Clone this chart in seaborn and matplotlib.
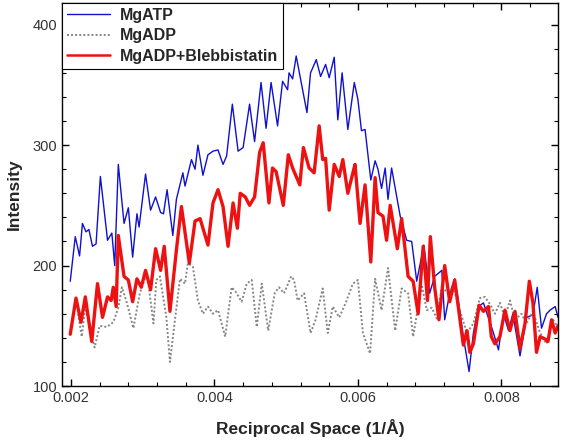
import matplotlib
matplotlib.use("Agg")
from matplotlib import pyplot as plt
import matplotlib.ticker as ticker
import seaborn as sns

# MgATP (blue)
atp_x = [0.00199, 0.00206, 0.00212, 0.00216, 0.00221, 0.00225, 0.00230, 0.00235, 0.00241, 0.00251,
         0.00257, 0.00261, 0.00266, 0.00274, 0.00280, 0.00286, 0.00292, 0.00295, 0.00304, 0.00311,
         0.00318, 0.00325, 0.00329, 0.00334, 0.00342, 0.00347, 0.00356, 0.00359, 0.00368, 0.00373,
         0.00377, 0.00384, 0.00391, 0.00398, 0.00405, 0.00412, 0.00417, 0.00425, 0.00433, 0.00440,
         0.00449, 0.00456, 0.00465, 0.00472, 0.00479, 0.00488, 0.00495, 0.00502, 0.00504, 0.00509,
         0.00514, 0.00521, 0.00529, 0.00534, 0.00542, 0.00548, 0.00555, 0.00560, 0.00567, 0.00572,
         0.00578, 0.00586, 0.00595, 0.00600, 0.00605, 0.00610, 0.00618, 0.00624, 0.00628, 0.00633,
         0.00638, 0.00642, 0.00647, 0.00659, 0.00668, 0.00675, 0.00682, 0.00692, 0.00700, 0.00707,
         0.00717, 0.00721, 0.00728, 0.00735, 0.00740, 0.00747, 0.00755, 0.00761, 0.00768, 0.00775,
         0.00789, 0.00796, 0.00803, 0.00810, 0.00816, 0.00826, 0.00835, 0.00844, 0.00850, 0.00856,
         0.00863, 0.00868, 0.00875, 0.00879]
atp_y = [187, 224, 208, 235, 228, 230, 216, 218, 274, 221,
         227, 200, 284, 235, 248, 207, 243, 232, 276, 246,
         257, 244, 243, 263, 225, 255, 277, 266, 288, 280,
         300, 275, 292, 295, 296, 284, 291, 334, 295, 298,
         334, 303, 352, 314, 352, 316, 353, 346, 360, 355,
         374, 352, 327, 360, 371, 357, 367, 356, 373, 321,
         360, 313, 352, 338, 312, 313, 271, 287, 280, 264,
         281, 255, 281, 241, 221, 220, 187, 217, 177, 191,
         196, 155, 177, 189, 171, 141, 112, 144, 166, 169,
         144, 130, 160, 146, 160, 125, 157, 159, 182, 148,
         160, 163, 166, 157]

# MgADP (grey dotted)
adp_x = [0.00210, 0.00215, 0.00220, 0.00229, 0.00233, 0.00240, 0.00250, 0.00259, 0.00266, 0.00271,
         0.00278, 0.00287, 0.00296, 0.00306, 0.00315, 0.00319, 0.00324, 0.00333, 0.00338, 0.00345,
         0.00352, 0.00359, 0.00363, 0.00370, 0.00377, 0.00384, 0.00391, 0.00398, 0.00405, 0.00415,
         0.00424, 0.00430, 0.00438, 0.00445, 0.00452, 0.00459, 0.00466, 0.00475, 0.00484, 0.00490,
         0.00497, 0.00507, 0.00511, 0.00516, 0.00525, 0.00534, 0.00541, 0.00551, 0.00558, 0.00565,
         0.00574, 0.00583, 0.00593, 0.00600, 0.00607, 0.00617, 0.00624, 0.00633, 0.00642, 0.00652,
         0.00661, 0.00670, 0.00677, 0.00684, 0.00689, 0.00696, 0.00703, 0.00710, 0.00717, 0.00726,
         0.00733, 0.00742, 0.00752, 0.00761, 0.00770, 0.00777, 0.00784, 0.00791, 0.00798, 0.00805,
         0.00812, 0.00819, 0.00828, 0.00835, 0.00844, 0.00854, 0.00863, 0.00872, 0.00879]
adp_y = [160, 141, 166, 141, 132, 150, 149, 153, 165, 182,
         169, 148, 177, 194, 152, 188, 191, 157, 120, 155,
         189, 185, 202, 199, 171, 160, 166, 160, 163, 141,
         182, 178, 170, 185, 188, 149, 185, 146, 177, 182,
         177, 191, 188, 171, 177, 144, 155, 181, 144, 166,
         157, 169, 185, 188, 144, 127, 189, 163, 198, 146,
         181, 177, 141, 166, 184, 163, 165, 156, 182, 177,
         182, 163, 144, 152, 173, 174, 168, 160, 169, 157,
         171, 155, 160, 152, 162, 144, 135, 155, 149]

# MgADP+Blebbistatin (red)
bleb_x = [0.00199, 0.00207, 0.00214, 0.00220, 0.00229, 0.00237, 0.00244, 0.00251, 0.00256, 0.00259,
          0.00263, 0.00266, 0.00274, 0.00280, 0.00286, 0.00292, 0.00298, 0.00304, 0.00311, 0.00318,
          0.00325, 0.00330, 0.00338, 0.00347, 0.00354, 0.00365, 0.00373, 0.00380, 0.00391, 0.00398,
          0.00405, 0.00412, 0.00419, 0.00426, 0.00432, 0.00436, 0.00443, 0.00449, 0.00456, 0.00463,
          0.00468, 0.00476, 0.00481, 0.00486, 0.00496, 0.00503, 0.00509, 0.00519, 0.00524, 0.00532,
          0.00539, 0.00546, 0.00551, 0.00555, 0.00560, 0.00567, 0.00574, 0.00579, 0.00586, 0.00593,
          0.00596, 0.00603, 0.00610, 0.00618, 0.00624, 0.00628, 0.00635, 0.00640, 0.00645, 0.00655,
          0.00661, 0.00670, 0.00677, 0.00684, 0.00691, 0.00697, 0.00701, 0.00707, 0.00713, 0.00721,
          0.00728, 0.00735, 0.00747, 0.00752, 0.00756, 0.00761, 0.00769, 0.00775, 0.00782, 0.00786,
          0.00791, 0.00798, 0.00805, 0.00812, 0.00819, 0.00826, 0.00833, 0.00839, 0.00844, 0.00849,
          0.00854, 0.00861, 0.00865, 0.00870, 0.00875, 0.00879]
bleb_y = [143, 173, 153, 174, 137, 185, 157, 174, 171, 182,
          166, 225, 191, 188, 170, 189, 182, 196, 180, 214,
          196, 216, 162, 213, 249, 202, 237, 239, 217, 252,
          263, 249, 216, 252, 231, 260, 257, 250, 257, 294,
          302, 252, 281, 278, 250, 292, 281, 267, 298, 281,
          277, 316, 288, 289, 246, 284, 274, 288, 260, 277,
          284, 235, 267, 203, 273, 244, 241, 221, 250, 214,
          239, 191, 187, 160, 216, 171, 224, 182, 155, 200,
          170, 188, 134, 146, 128, 135, 167, 162, 166, 141,
          135, 141, 163, 146, 162, 131, 152, 187, 169, 128,
          141, 139, 137, 155, 144, 150]


def plot():
    sns.set_style("ticks")
    plt.rcParams['font.family'] = ['Liberation Sans', 'DejaVu Sans']

    fig = plt.figure(figsize=(5.61, 4.44), dpi=100)
    ax = fig.add_axes([0.1105, 0.1306, 0.8842, 0.8626])

    sns.lineplot(x=atp_x, y=atp_y, ax=ax, color='#1010d0', lw=1.0,
                 solid_joinstyle='round', estimator=None, sort=False, label='MgATP')
    sns.lineplot(x=adp_x, y=adp_y, ax=ax, color='#858585', lw=1.4,
                 linestyle=(0, (1, 1.1)), estimator=None, sort=False, label='MgADP')
    sns.lineplot(x=bleb_x, y=bleb_y, ax=ax, color='#ee1111', lw=2.4,
                 solid_joinstyle='round', estimator=None, sort=False,
                 label='MgADP+Blebbistatin')

    ax.set_xlim(0.001875, 0.00879)
    ax.set_ylim(100, 418)
    ax.xaxis.set_major_locator(ticker.MultipleLocator(0.002))
    ax.xaxis.set_minor_locator(ticker.MultipleLocator(0.0004))
    ax.yaxis.set_major_locator(ticker.MultipleLocator(100))
    ax.yaxis.set_minor_locator(ticker.MultipleLocator(20))
    ax.xaxis.set_major_formatter(ticker.FormatStrFormatter('%.3f'))

    ax.tick_params(which='both', direction='in', top=True, right=True,
                   colors='black', labelcolor='#333333', labelsize=10.5)
    ax.tick_params(which='major', length=5, width=1.0)
    ax.tick_params(which='minor', length=3, width=0.8)
    for s in ax.spines.values():
        s.set_linewidth(1.0)
        s.set_color('black')

    ax.set_xlabel('Reciprocal Space (1/Å)', fontsize=12.5, fontweight='bold', labelpad=10)
    ax.set_ylabel('Intensity', fontsize=12.5, fontweight='bold', labelpad=8)

    leg = ax.legend(loc='upper left', borderaxespad=0, fancybox=False,
                    edgecolor='black', framealpha=1, handlelength=2.7,
                    handletextpad=0.6, labelspacing=0.35, borderpad=0.3,
                    prop={'weight': 'bold', 'size': 11.5})
    leg.get_frame().set_linewidth(0.8)
    for line in leg.get_lines():
        line.set_linewidth(min(line.get_linewidth(), 1.8))

    plt.savefig('out.png', dpi=100)


def main():
    plot()


if __name__ == "__main__":
    main()
